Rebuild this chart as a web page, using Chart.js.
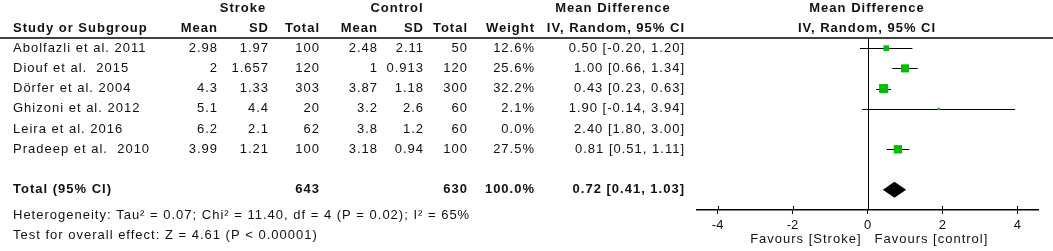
<!DOCTYPE html>
<html>
<head>
<meta charset="utf-8">
<script src="https://cdn.jsdelivr.net/npm/chart.js"></script>
<style>
  body { margin: 0; background: #fff; }
  #wrap { width: 1053px; height: 251px; position: relative; }
</style>
</head>
<body>
<div id="wrap"><canvas id="forest"></canvas></div>
<script>
// study data
const studies = ['Abolfazli et al. 2011', 'Diouf et al.  2015', 'Dörfer et al. 2004', 'Ghizoni et al. 2012', 'Leira et al. 2016', 'Pradeep et al.  2010'];
const strokeMean = ['2.98', '2', '4.3', '5.1', '6.2', '3.99'];
const strokeSD = ['1.97', '1.657', '1.33', '4.4', '2.1', '1.21'];
const strokeTotal = ['100', '120', '303', '20', '62', '100'];
const controlMean = ['2.48', '1', '3.87', '3.2', '3.8', '3.18'];
const controlSD = ['2.11', '0.913', '1.18', '2.6', '1.2', '0.94'];
const controlTotal = ['50', '120', '300', '60', '60', '100'];
const weights = [12.6, 25.6, 32.2, 2.1, 0.0, 27.5];
const md = [0.50, 1.00, 0.43, 1.90, 2.40, 0.81];
const ciLow = [-0.20, 0.66, 0.23, -0.14, 1.80, 0.51];
const ciHigh = [1.20, 1.34, 0.63, 3.94, 3.00, 1.11];

const total = { label: 'Total (95% CI)', stroke: '643', control: '630', weight: '100.0%', md: 0.72, lo: 0.41, hi: 1.03 };
const heterogeneity = 'Heterogeneity: Tau² = 0.07; Chi² = 11.40, df = 4 (P = 0.02); I² = 65%';
const overallTest = 'Test for overall effect: Z = 4.61 (P < 0.00001)';
const xTicks = [-4, -2, 0, 2, 4];
const favours = ['Favours [Stroke]', 'Favours [control]'];

const totalRow = 7;
const fmt = v => v.toFixed(2);
const ciText = (m, lo, hi) => fmt(m) + ' [' + fmt(lo) + ', ' + fmt(hi) + ']';

const FONT = '"Liberation Sans", Arial, sans-serif';
const INK = '#111';
const GREEN = '#00bf00';

// column right edges for the table part
const cols = [217, 268, 319, 377, 423, 467, 534, 684];

function txt(ctx, s, x, y, align, bold) {
  ctx.font = (bold ? 'bold ' : '') + '13px ' + FONT;
  ctx.textAlign = align;
  ctx.textBaseline = 'middle';
  ctx.fillText(s, align === 'right' ? x + 1 : x, y);
}

const forestPlugin = {
  id: 'forest',
  beforeDatasetsDraw(chart) {
    const { ctx, chartArea, scales } = chart;
    const x = scales.x, y = scales.y;
    ctx.save();
    // header rule
    ctx.strokeStyle = '#000';
    ctx.lineWidth = 1.5;
    ctx.beginPath();
    ctx.moveTo(0, chartArea.top);
    ctx.lineTo(chart.width, chartArea.top);
    ctx.stroke();
    // line of no effect
    ctx.lineWidth = 1;
    ctx.beginPath();
    ctx.moveTo(Math.round(x.getPixelForValue(0)) + 0.5, chartArea.top);
    ctx.lineTo(Math.round(x.getPixelForValue(0)) + 0.5, chartArea.bottom);
    ctx.stroke();
    // tick marks poking above the axis
    xTicks.forEach(t => {
      const px = Math.round(x.getPixelForValue(t)) + 0.5;
      ctx.beginPath();
      ctx.moveTo(px, chartArea.bottom - 4);
      ctx.lineTo(px, chartArea.bottom);
      ctx.stroke();
    });
    // confidence intervals
    studies.forEach((s, i) => {
      if (weights[i] <= 0) return;
      const py = Math.round(y.getPixelForValue(i)) + 0.5;
      ctx.beginPath();
      ctx.moveTo(x.getPixelForValue(ciLow[i]), py);
      ctx.lineTo(x.getPixelForValue(ciHigh[i]), py);
      ctx.stroke();
    });
    // pooled diamond
    const dy = y.getPixelForValue(totalRow);
    ctx.fillStyle = '#000';
    ctx.beginPath();
    ctx.moveTo(x.getPixelForValue(total.lo), dy);
    ctx.lineTo(x.getPixelForValue(total.md), dy - 8);
    ctx.lineTo(x.getPixelForValue(total.hi), dy);
    ctx.lineTo(x.getPixelForValue(total.md), dy + 8);
    ctx.closePath();
    ctx.fill();
    ctx.restore();
  },
  afterDraw(chart) {
    const { ctx, scales } = chart;
    const y = scales.y, x = scales.x;
    ctx.save();
    ctx.fillStyle = INK;
    ctx.letterSpacing = '1px';
    const h1 = 8, h2 = 28;
    txt(ctx, 'Stroke', 243, h1, 'center', true);
    txt(ctx, 'Control', 397, h1, 'center', true);
    txt(ctx, 'Mean Difference', 613, h1, 'center', true);
    txt(ctx, 'Mean Difference', 867, h1, 'center', true);
    txt(ctx, 'Study or Subgroup', 13, h2, 'left', true);
    ['Mean', 'SD', 'Total', 'Mean', 'SD', 'Total', 'Weight', 'IV, Random, 95% CI'].forEach((h, k) => txt(ctx, h, cols[k], h2, 'right', true));
    txt(ctx, 'IV, Random, 95% CI', 867, h2, 'center', true);

    studies.forEach((s, i) => {
      const py = y.getPixelForValue(i);
      const cells = [strokeMean[i], strokeSD[i], strokeTotal[i], controlMean[i], controlSD[i], controlTotal[i],
        weights[i].toFixed(1) + '%', ciText(md[i], ciLow[i], ciHigh[i])];
      txt(ctx, s, 13, py, 'left', false);
      cells.forEach((c, k) => txt(ctx, c, cols[k], py, 'right', false));
    });

    const ty = y.getPixelForValue(totalRow);
    txt(ctx, total.label, 13, ty, 'left', true);
    txt(ctx, total.stroke, cols[2], ty, 'right', true);
    txt(ctx, total.control, cols[5], ty, 'right', true);
    txt(ctx, total.weight, cols[6], ty, 'right', true);
    txt(ctx, ciText(total.md, total.lo, total.hi), cols[7], ty, 'right', true);

    txt(ctx, heterogeneity, 13, 215, 'left', false);
    txt(ctx, overallTest, 13, 235, 'left', false);

    const zx = x.getPixelForValue(0);
    txt(ctx, favours[0], zx - 7, 239, 'right', false);
    txt(ctx, favours[1], zx + 7, 239, 'left', false);
    ctx.restore();
  }
};

new Chart(document.getElementById('forest'), {
  type: 'scatter',
  data: {
    datasets: [{
      data: studies.map((s, i) => ({ x: md[i], y: i })),
      pointStyle: 'rect',
      pointRadius: weights.map(w => 1.13 * Math.sqrt(w)),
      pointHoverRadius: weights.map(w => 1.13 * Math.sqrt(w)),
      backgroundColor: GREEN,
      borderWidth: 0
    }]
  },
  options: {
    responsive: true,
    maintainAspectRatio: false,
    animation: false,
    layout: { padding: { left: 697, right: 15, top: 38, bottom: 0 } },
    plugins: { legend: { display: false }, tooltip: { enabled: false } },
    scales: {
      x: {
        type: 'linear',
        min: -4.55,
        max: 4.55,
        afterBuildTicks: s => { s.ticks = xTicks.map(v => ({ value: v })); },
        afterFit: s => { s.height = 41; },
        grid: { drawOnChartArea: false, tickLength: 4, color: '#000', lineWidth: 1 },
        border: { color: '#000', width: 1.5 },
        ticks: { color: INK, font: { family: FONT, size: 13 }, padding: 4 }
      },
      y: {
        type: 'linear',
        display: false,
        reverse: true,
        min: -0.5,
        max: 8
      }
    }
  },
  plugins: [forestPlugin]
});
</script>
</body>
</html>
